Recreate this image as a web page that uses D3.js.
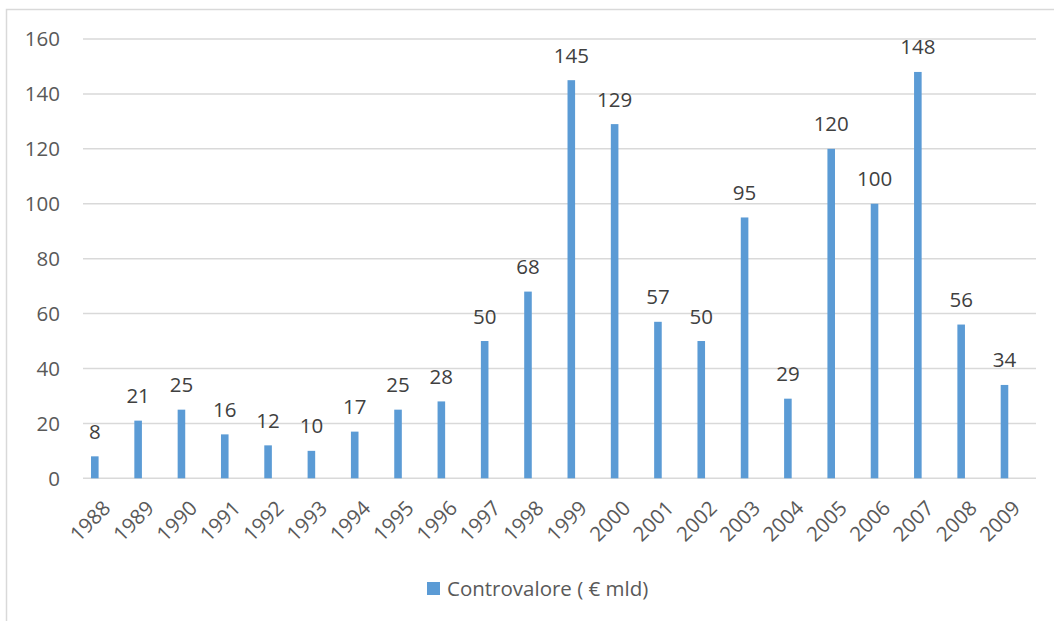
<!DOCTYPE html>
<html>
<head>
<meta charset="utf-8">
<script src="https://cdn.jsdelivr.net/npm/d3@7"></script>
<style>
  html, body { margin: 0; padding: 0; background: #fff; }
  svg { display: block; }
  text { font-family: "Open Sans", Lato, sans-serif; }
</style>
</head>
<body>
<svg id="chart" width="1054" height="621"></svg>
<script>
// Yearly values (€ bn)
const years = ["1988","1989","1990","1991","1992","1993","1994","1995","1996","1997","1998",
               "1999","2000","2001","2002","2003","2004","2005","2006","2007","2008","2009"];
const values = [8, 21, 25, 16, 12, 10, 17, 25, 28, 50, 68, 145, 129, 57, 50, 95, 29, 120, 100, 148, 56, 34];
const yTicks = [0, 20, 40, 60, 80, 100, 120, 140, 160];
const seriesName = "Controvalore ( € mld)";

const W = 1054, H = 621;
const plot = { left: 83, right: 1036, top: 39, bottom: 478.3 };
const barColor = "#5B9BD5";
const gridColor = "#D9D9D9";
const axisText = "#595959";
const labelText = "#404040";
const fontSize = 20.5;

const svg = d3.select("#chart");

// outer chart frame
svg.append("rect")
  .attr("x", 6.5).attr("y", 9.5)
  .attr("width", W + 20).attr("height", H + 20)
  .attr("fill", "#fff")
  .attr("stroke", gridColor).attr("stroke-width", 1.5);

const x = d3.scaleBand().domain(years).range([plot.left, plot.right]).padding(0);
const y = d3.scaleLinear().domain([0, 160]).range([plot.bottom, plot.top]);

// bar geometry within each category band
const barOffset = x.bandwidth() * 0.185;
const barWidth = x.bandwidth() * 0.175;

// horizontal gridlines
svg.append("g")
  .selectAll("line")
  .data(yTicks)
  .join("line")
  .attr("x1", plot.left).attr("x2", plot.right)
  .attr("y1", d => y(d)).attr("y2", d => y(d))
  .attr("stroke", gridColor).attr("stroke-width", 1.5);

// y-axis labels
svg.append("g")
  .selectAll("text")
  .data(yTicks)
  .join("text")
  .attr("x", 60)
  .attr("y", d => y(d))
  .attr("dy", "0.36em")
  .attr("text-anchor", "end")
  .attr("font-size", fontSize)
  .attr("fill", axisText)
  .text(d => d);

// bars
svg.append("g")
  .selectAll("rect")
  .data(years.map((yr, i) => ({ yr, v: values[i] })))
  .join("rect")
  .attr("x", d => x(d.yr) + barOffset)
  .attr("width", barWidth)
  .attr("y", d => y(d.v))
  .attr("height", d => y(0) - y(d.v))
  .attr("fill", barColor);

// value labels above bars
svg.append("g")
  .selectAll("text")
  .data(years.map((yr, i) => ({ yr, v: values[i] })))
  .join("text")
  .attr("x", d => x(d.yr) + barOffset + barWidth / 2)
  .attr("y", d => y(d.v) - 17.5)
  .attr("text-anchor", "middle")
  .attr("font-size", fontSize)
  .attr("fill", labelText)
  .text(d => d.v);

// rotated category labels
svg.append("g")
  .selectAll("text")
  .data(years)
  .join("text")
  .attr("transform", d => `translate(${x(d) + x.bandwidth() / 2 + 2},${plot.bottom + 26}) rotate(-45)`)
  .attr("text-anchor", "end")
  .attr("dy", "0.36em")
  .attr("font-size", fontSize)
  .attr("fill", axisText)
  .text(d => d);

// legend
const legend = svg.append("g");
legend.append("rect")
  .attr("x", 427).attr("y", 582)
  .attr("width", 13).attr("height", 13)
  .attr("fill", barColor);
legend.append("text")
  .attr("x", 447).attr("y", 595.5)
  .attr("font-size", fontSize)
  .attr("fill", axisText)
  .text(seriesName);
</script>
</body>
</html>
